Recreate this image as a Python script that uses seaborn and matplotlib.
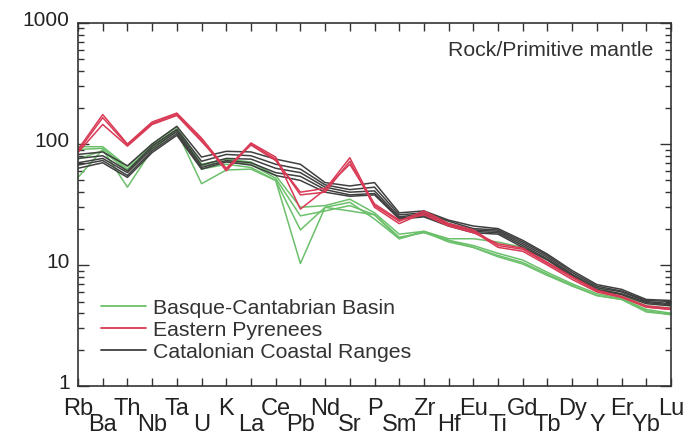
import numpy as np
import pandas as pd
import matplotlib
matplotlib.use("Agg")
import matplotlib.pyplot as plt
import seaborn as sns
from matplotlib.lines import Line2D
from matplotlib.transforms import ScaledTranslation
from matplotlib.ticker import FixedLocator, LogLocator, NullFormatter, FixedFormatter

# ---------------- data ----------------
elements = ["Rb", "Ba", "Th", "Nb", "Ta", "U", "K", "La", "Ce", "Pb", "Nd", "Sr", "P",
            "Sm", "Zr", "Hf", "Eu", "Ti", "Gd", "Tb", "Dy", "Y", "Er", "Yb", "Lu"]

groups = ["Basque-Cantabrian Basin", "Eastern Pyrenees", "Catalonian Coastal Ranges"]

# Basque-Cantabrian Basin (green)
bcb_1 = [95, 95, 65, 100, 138, 68, 75, 71, 55, 30, 31, 35, 27, 18, 19, 16.5, 16.5, 15.5, 14, 11, 8.3, 6.5, 5.7, 4.6, 4.4]
bcb_2 = [90, 92, 62, 97, 132, 66, 72, 68, 52, 25.5, 28, 31, 26, 17, 18.5, 16, 14.5, 12.5, 11, 8.7, 7.0, 5.8, 5.3, 4.3, 4.0]
bcb_3 = [75, 88, 60, 95, 130, 62, 68, 64, 50, 19.5, 30, 33, 24, 16.5, 18.8, 15.5, 14, 12, 10.5, 8.4, 6.8, 5.6, 5.2, 4.2, 3.9]
bcb_4 = [53, 90, 44, 90, 128, 47, 61, 62, 50, 10.3, 30, 28, 26, 16.5, 19, 16, 14, 11.7, 10.2, 8.2, 6.7, 5.6, 5.2, 4.1, 3.9]

# Eastern Pyrenees (red)
ep_1 = [90, 175, 100, 152, 180, 112, 62, 102, 78, 29, 42, 77, 31, 23, 28, 22, 19.5, 14.5, 13.5, 10.3, 7.9, 6.1, 5.5, 4.6, 4.4]
ep_2 = [87, 165, 98, 148, 176, 108, 60, 100, 75, 38, 40, 72, 30, 22, 27, 21.5, 19, 14, 13, 10, 7.6, 6.0, 5.4, 4.5, 4.3]
ep_3 = [85, 145, 96, 145, 172, 105, 63, 98, 73, 40, 43, 68, 32, 23.5, 26, 21, 18.5, 15, 13.8, 10.5, 8.0, 6.2, 5.5, 4.5, 4.3]

# Catalonian Coastal Ranges (dark grey)
ccr_1 = [82, 86, 66, 100, 140, 78, 87, 86, 75, 68, 48, 45, 48, 27, 28, 23.5, 21, 20, 16, 12.3, 9.0, 6.9, 6.3, 5.2, 5.1]
ccr_2 = [76, 80, 60, 96, 132, 72, 82, 80, 68, 62, 46, 42, 44, 26, 27, 23, 20, 19.5, 15.5, 12, 8.7, 6.7, 6.1, 5.1, 5.0]
ccr_3 = [70, 76, 58, 92, 127, 67, 76, 75, 63, 58, 44, 40, 41, 25, 26.5, 22, 19.5, 19, 15, 11.6, 8.4, 6.5, 6.0, 5.0, 4.8]
ccr_4 = [67, 73, 55, 88, 122, 64, 73, 70, 58, 54, 42, 38, 39, 24.5, 25.5, 21.5, 19, 18.5, 14.5, 11.2, 8.2, 6.3, 5.8, 4.9, 4.7]
ccr_5 = [63, 70, 53, 85, 118, 62, 71, 67, 55, 50, 40, 37, 38, 24, 25, 21, 18.5, 18, 14, 11, 8.0, 6.2, 5.7, 4.8, 4.6]

samples = {
    groups[0]: [bcb_1, bcb_2, bcb_3, bcb_4],
    groups[1]: [ep_1, ep_2, ep_3],
    groups[2]: [ccr_1, ccr_2, ccr_3, ccr_4, ccr_5],
}

colors = {groups[0]: "#6cc06b", groups[1]: "#d93a55", groups[2]: "#3f3f3f"}

rows = []
for g, lst in samples.items():
    for k, vals in enumerate(lst):
        for i, v in enumerate(vals):
            rows.append({"pos": i, "value": v, "group": g, "sample": f"{g}_{k}"})
df = pd.DataFrame(rows)

# ---------------- plot ----------------
sns.set_style("ticks")
plt.rcParams["font.family"] = ["Liberation Sans", "DejaVu Sans"]

fig = plt.figure(figsize=(6.86, 4.35), dpi=100)
ax = fig.add_axes([0.1137, 0.110, 0.8645, 0.835])

sns.lineplot(data=df, x="pos", y="value", hue="group", units="sample", estimator=None,
             hue_order=[groups[0], groups[2], groups[1]], palette=colors,
             linewidth=1.1, legend=False, ax=ax)

ax.set_yscale("log")
ax.set_ylim(1, 1000)
ax.set_xlim(0, len(elements) - 1)
ax.set_xlabel("")
ax.set_ylabel("")

# x ticks: alternating rows via major / minor ticks
pos = np.arange(len(elements))
ax.xaxis.set_major_locator(FixedLocator(pos[::2]))
ax.xaxis.set_major_formatter(FixedFormatter(elements[::2]))
ax.xaxis.set_minor_locator(FixedLocator(pos[1::2]))
ax.xaxis.set_minor_formatter(FixedFormatter(elements[1::2]))

xfont = ["Liberation Sans Narrow", "Liberation Sans"]
ax.tick_params(axis="x", which="major", direction="in", length=6, width=1,
               top=True, bottom=True, labelsize=17, pad=8, colors="#333333", labelcolor="#222222")
ax.tick_params(axis="x", which="minor", direction="in", length=6, width=1,
               top=True, bottom=True, labelsize=17, pad=19.5, colors="#333333", labelcolor="#222222")
for lbl in ax.get_xticklabels(which="both"):
    lbl.set_family(xfont)

# y ticks
ax.yaxis.set_major_locator(FixedLocator([1, 10, 100, 1000]))
ax.yaxis.set_major_formatter(FixedFormatter(["1", "10", "100", "1000"]))
ax.yaxis.set_minor_locator(LogLocator(base=10, subs=np.arange(2, 10)))
ax.yaxis.set_minor_formatter(NullFormatter())
ax.tick_params(axis="y", which="major", direction="in", length=8, width=1,
               left=True, right=True, labelsize=15, pad=6, colors="#333333", labelcolor="#222222")
ax.tick_params(axis="y", which="minor", direction="in", length=4, width=1,
               left=True, right=True, colors="#333333")
shift = ScaledTranslation(0, 4 / 72, fig.dpi_scale_trans)
for lbl in ax.get_yticklabels():
    lbl.set_transform(lbl.get_transform() + shift)

for s in ax.spines.values():
    s.set_visible(True)
    s.set_linewidth(1.2)
    s.set_color("#333333")

ax.text(0.97, 0.928, "Rock/Primitive mantle", transform=ax.transAxes,
        ha="right", va="center", fontsize=15.3, color="#333333")

handles = [Line2D([0], [0], color=colors[g], lw=1.3) for g in groups]
ax.legend(handles, groups, loc="lower left", bbox_to_anchor=(0.025, 0.045), frameon=False,
          fontsize=15.3, handlelength=2.1, handletextpad=0.35, labelspacing=0.14,
          borderaxespad=0, labelcolor="#333333")

fig.savefig("out.png", dpi=100)
